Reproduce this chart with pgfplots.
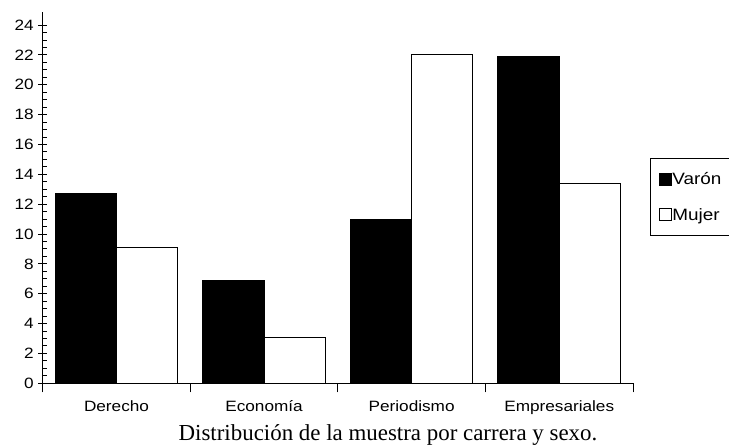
\documentclass[border=0pt]{standalone}
\usepackage{fontspec}
\setmainfont{Liberation Serif}
\newfontfamily\chartsf[FakeStretch=1.15]{Liberation Sans}
\usepackage{pgfplots}
\pgfplotsset{compat=1.18}

\begin{document}
\begin{tikzpicture}[x=1bp,y=1bp]
\useasboundingbox (0,0) rectangle (729,448);
\begin{axis}[
    at={(42.7bp,64.7bp)}, anchor=south west,
    scale only axis,
    width=590.3bp, height=371.6bp,
    xmin=0, xmax=4, ymin=0, ymax=24.9,
    axis x line*=bottom, axis y line*=left,
    axis line style={-, line width=1.1pt},
    xtick={0,1,2,3,4},
    xticklabels={Derecho,Economía,Periodismo,Empresariales},
    x tick label as interval,
    ytick={0,2,...,24},
    minor y tick num=3,
    minor x tick num=0,
    tick align=center,
    major tick length=9bp,
    minor tick length=4bp,
    every tick/.style={black, line width=1pt},
    minor y tick style={xshift=2bp},
    tick label style={font=\chartsf\fontsize{15}{17}\selectfont},
    /pgf/number format/assume math mode=true,
    yticklabel style={xshift=-1bp},
    xticklabel style={yshift=-5bp},
    ybar, bar width=0.415,
    legend style={
        at={(1.0288,0.6063)}, anchor=north west,
        draw=black, line width=1pt,
        font=\chartsf\fontsize{16.5}{18}\selectfont,
        legend cell align=left,
        row sep=20bp,
        inner xsep=8bp, inner ysep=13bp,
        nodes={inner sep=1bp, text width=70bp, align=left},
    },
]
\addplot[fill=black, draw=black, line width=1pt, bar shift=-0.2075,
    legend image code/.code={\draw[fill=black,draw=black,line width=0.8pt] (0bp,-6bp) rectangle (12bp,6bp);}]
    coordinates {(0.5,12.7) (1.5,6.9) (2.5,11.0) (3.5,21.9)};
\addplot[fill=white, draw=black, line width=1pt, bar shift=0.2075,
    legend image code/.code={\draw[fill=white,draw=black,line width=0.8pt] (0bp,-6bp) rectangle (12bp,6bp);}]
    coordinates {(0.5,9.1) (1.5,3.1) (2.5,22.0) (3.5,13.4)};
\legend{Varón,Mujer}
\end{axis}
\node[anchor=base, font=\fontsize{23}{26}\selectfont] at (388,7) {Distribución de la muestra por carrera y sexo.};
\end{tikzpicture}
\end{document}
